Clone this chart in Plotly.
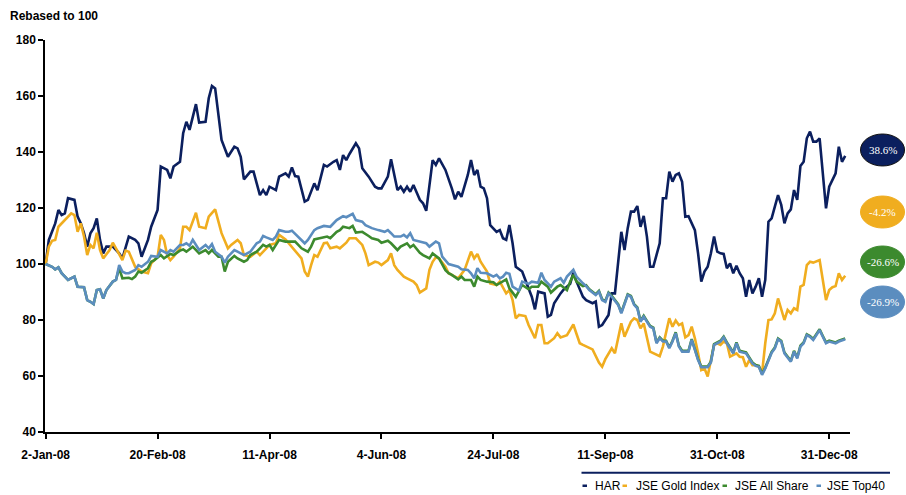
import plotly.graph_objects as go

# trading-day index (0 = 2-Jan-08) and rebased values
har_day = [0,1,3,4,5,6,7,9,10,11,12,13,14,15,16,17,18,19,21,23,24,25,26,28,29,30,32,33,35,36,38,39,40,42,43,44,45,47,48,50,51,52,53,55,57,59,60,61,62,64,65,66,67,68,69,70,72,73,75,76,77,78,79,81,82,84,85,87,88,90,91,92,93,94,95,97,98,99,101,103,104,105,107,108,110,111,112,113,114,115,116,117,118,119,121,122,123,125,127,128,129,130,132,133,134,135,136,137,138,139,141,142,143,144,145,146,147,149,150,152,153,154,156,157,158,159,161,162,164,165,166,168,169,171,172,173,174,176,177,178,180,181,182,183,184,185,186,187,188,189,190,191,192,193,194,195,196,197,198,199,200,201,202,203,204,205,206,207,208,209,210,211,212,213,214,215,216,217,218,219,220,221,222,223,224,225,226,227,228,229,230,231,232,233,234,235,236,237,238,239,240,241,242,243,244,245,246,247,248,249,250]
har_val = [100,108.6,114.5,119.3,117.5,118.1,123.5,122.9,116.9,114.5,111,106.2,111,112.8,116.3,108.6,103.8,106.2,106.2,103.8,102,106.2,109.8,108.6,107.4,102.6,108.6,113.3,119.3,134.8,133.6,130.6,134.8,136.5,146.7,150.8,147.9,157.1,150.5,150.8,159.2,163.6,162.7,144.3,138.3,141.9,141.3,138.3,130.2,133,133,128.8,124.6,126.4,124.6,127.6,126.4,131.2,132.4,131.2,134.5,131.4,131.2,122.3,122.9,128.8,126.4,135.4,134.8,136.5,137.1,133.6,138.9,137.1,139.3,143.1,141.3,134.2,131.2,127.6,127,127,131.2,137.4,126.4,127.6,125.8,127.6,125.8,128.2,125.8,122.9,121.7,119,137.1,135.4,137.7,133.6,127,123.1,125.8,124,131.8,137.1,131.8,133.6,127.6,127,123.5,113.9,111.5,112.1,109.2,108.6,113.9,107.4,99,97.3,94.3,88.3,83.8,90.1,89.5,81.2,81.8,86,89.5,90.9,92.9,96.9,93.7,88.3,87.1,86,86.6,77.6,78.2,81.8,89.5,89.5,111.5,105,112.8,118.7,118.7,120.7,113.3,117.2,109.8,99,99,103.2,107.4,123.5,123.5,133,129.4,131.8,132.4,129.4,116.9,117.1,114.5,112.1,103.8,93.7,97.3,99,103.8,109.8,104.4,103.8,103.6,98.5,100.2,96.7,99.4,96.7,94.9,88.3,94.3,89.5,91.9,94.9,88.3,94.3,115.1,116.3,120.5,124.6,121.1,114.5,118.1,119.5,126.4,122.9,135,136.5,144.9,147.3,143.7,143.7,144.9,133.6,119.9,127.6,130,132.4,141.9,136.5,138.6]

gold_day = [0,1,2,3,4,5,6,8,9,10,11,12,13,14,15,16,17,18,20,21,22,24,25,26,28,30,32,33,35,36,37,38,39,40,42,43,44,45,47,48,50,51,53,55,57,58,60,61,62,64,66,67,69,70,72,73,75,76,78,80,81,82,83,84,85,87,88,89,91,92,94,95,97,99,100,101,103,104,105,107,108,109,110,112,113,115,116,117,119,120,121,122,123,125,126,128,129,131,132,133,134,135,136,138,139,141,142,144,145,146,147,148,150,151,153,154,155,156,157,159,160,161,163,164,165,166,167,168,170,171,173,174,175,177,178,179,180,181,183,184,185,186,187,189,190,192,193,194,195,196,197,198,199,200,201,202,203,204,205,206,207,208,209,210,211,212,213,214,216,217,218,219,220,221,222,223,224,225,226,227,228,229,230,231,232,233,234,235,236,237,238,239,240,242,243,244,245,246,247,248,249,250]
gold_val = [100,106.2,108.3,108.6,113.3,114.5,115.5,118.1,117.5,111.5,114.5,109.8,103.2,106.8,105.6,111.2,105,102,105,107.6,105.6,101.4,104.8,104.4,99,97.3,96.7,100.2,102.6,110.4,108.6,103.2,101.4,102.6,105.6,113.3,113.3,112.1,118.3,113.3,112.8,116.9,119.5,111,105.6,106.8,108.6,107.4,103.2,102.6,104.4,103.2,105.6,106.8,107.4,110.4,108.8,107.4,104.4,102,97.3,95.5,99.6,103.2,102.6,107.4,107.6,105.6,106.2,105.6,107.6,109.2,109.2,106.8,103.8,99.6,100.8,100.5,99.6,101.4,103.8,99.6,97.9,95.5,94.9,93.7,92.5,89.8,91.3,97.9,100.8,102.4,102,99,96.7,95.5,94.9,97.9,100.8,104.4,102,103.6,100.8,97.3,93.1,92.5,93.7,89.5,90.7,87.1,80.6,81.8,81.4,78.2,73.5,78.2,78.2,71.7,71.7,73.5,75.3,73.8,74.6,76.7,78.4,75,71.7,71.1,69.9,69.5,64.8,63.3,66,69.9,68.1,72.9,78.8,74,79.4,80.6,80,77,78.8,68.7,68.1,67.1,70.5,75.3,80.6,77.6,79.8,78.2,78.8,73.8,74.6,77.6,73.5,68.1,62.1,62.7,59.8,65.7,71.1,71.7,71.1,72.3,71.7,66.9,68.1,66.9,66.7,63.3,65.7,63.9,63.9,63.3,61,71.7,80,80.2,82.4,87.7,83.6,80,83.6,82.4,84.2,83.6,91.9,92.5,99.6,100.8,100.5,101.4,94.3,87.1,90.7,91.7,92.1,96.7,94.3,95.8]

allshare_day = [0,2,3,4,5,7,9,10,12,13,14,15,16,17,18,19,21,22,23,24,26,27,28,29,30,32,33,34,36,37,39,40,42,43,44,46,48,50,51,52,54,55,56,57,59,60,62,63,64,66,67,68,69,70,71,73,75,76,78,79,80,82,83,84,86,88,89,91,92,93,95,96,97,99,101,102,104,105,107,108,110,111,113,114,115,117,118,120,121,123,125,126,127,129,130,131,133,134,135,136,138,140,141,143,144,145,147,149,151,152,154,155,157,158,160,161,163,164,165,166,168,
                169,170,172,173,174,175,176,177,179,180,182,183,184,185,186,187,188,189,190,191,192,193,194,195,196,197,198,199,201,202,203,204,205,207,208,209,210,211,212,213,215,216,217,219,220,221,222,223,224,225,227,228,229,230,231,233,234,235,236,237,238,239,240,242,243,244,245,247,248,250]
allshare_val = [100,99,98.1,98.8,96.7,94.3,95.5,91.9,91.7,87.1,86.5,85.7,90.7,91,87.7,90.7,93.7,94.3,98.5,94.9,95.1,94.6,95.5,97.3,96.9,98.5,100.8,101.4,103.2,102,103.6,103.2,104.8,105.2,104.4,106.2,103.8,105,103.8,105,102.6,102.6,97.3,100.8,102.9,102,100.8,101.4,103.2,104.4,105.6,106.8,106.2,106.8,105,108.6,108,108,108,106.8,105.6,104.4,106.2,108.8,109.2,109.8,109.2,111.5,112.1,113.3,112.8,113.6,111.2,111.5,110,109.2,108.6,107.6,108.3,107.4,105,106.2,107.4,106,106.8,104,103.2,102,103.8,102,97.8,96.7,96.1,94.5,95.5,94.3,94.3,91.9,95.5,94.3,93.7,93.5,92.5,94,94.5,91.3,88.3,92.5,91,91.9,91.9,93.7,91.9,89.8,91.9,92.5,90.7,93.7,96.1,93.7,92.1,
                92.4,91.0,89.2,90.4,87.4,86.8,89.8,88.6,85.7,82.7,89.2,88.6,85.7,84.5,79.7,81.5,79.7,77.9,77.3,72.0,73.8,72.6,72.6,70.2,72.6,75.6,70.8,69.0,69.0,73.2,69.6,66.0,63.4,63.4,65.1,71.4,72.0,72.6,74.1,72.0,68.4,72.0,69.0,68.4,66.6,64.8,63.9,63.6,60.8,63.0,68.6,70.2,73.4,72.6,68.4,65.4,69.0,66.6,70.8,72.0,74.9,74.3,73.2,76.7,74.3,72.0,72.6,72.0,72.6,73.4]

top40_day = [0,2,3,4,5,7,9,10,12,13,14,15,16,17,18,19,21,22,23,24,25,26,28,29,30,32,33,35,36,38,39,40,42,43,44,45,46,48,50,51,52,53,55,56,57,59,60,62,64,66,67,68,69,71,72,73,75,76,77,79,80,81,82,84,85,87,89,90,91,93,94,96,97,99,100,102,103,104,106,107,108,109,111,112,113,114,115,117,119,120,122,123,124,126,127,129,130,132,133,134,135,136,138,140,141,142,143,144,145,146,148,149,151,152,154,155,156,158,159,161,162,163,165,166,168,169,170,172,173,174,175,176,177,179,180,182,183,184,185,186,187,188,189,190,191,192,193,194,195,196,197,198,199,201,202,203,204,205,207,208,209,210,211,212,213,215,216,217,219,220,221,222,223,224,225,227,228,229,230,231,233,234,235,236,237,238,239,240,242,243,244,245,247,248,250]
top40_val = [100,99,98.1,98.8,96.7,94.3,95.5,91.9,91.7,87.1,86.5,85.7,90.7,91,87.7,90.7,93.7,94.3,99.6,97.3,96.7,96.7,97.9,99.6,99,100.8,102.9,102.6,105,103.8,105,104.4,106.8,106.8,107.4,106.5,108.6,105,106.8,105.6,107.1,104.4,102.6,100.5,102.6,105,104.4,103.2,104.4,107.4,108,110,109.5,108.6,109.8,112.1,111.5,111.5,111.9,109.8,108.6,107.4,108.6,112.1,112.8,113.6,113.3,114.5,115.7,117.1,116.7,117.9,115.7,115.1,113.9,112.8,112.4,112.1,111.5,112.1,111,109.8,109.8,110.4,109.5,111,108.6,108,107.4,106.2,108,107.4,102.6,100,99.6,99,98.1,97.9,96.7,94.9,98.5,96.9,96.7,95.5,96.1,94.9,95.5,96.9,96.5,91.9,90.5,93.7,92.9,93.7,93.3,96.9,94.3,91.9,93.7,94.9,93.3,95.5,97.9,95.5,93.1,92.1,90.7,88.9,90.1,87.1,86.5,89.5,88.3,85.4,82.4,88.9,88.3,85.4,84.2,79.4,81.2,79.4,77.6,77,71.7,73.5,72.3,72.3,69.9,72.3,75.3,70.5,68.7,68.7,72.9,69.3,65.7,63.1,63.1,64.8,71.1,71.7,72.3,73.8,71.7,68.1,71.7,68.7,68.1,66.3,64.5,63.6,63.3,60.4,62.7,68.3,69.9,73.1,72.3,68.1,65.1,68.7,66.3,70.5,71.7,74.6,74,72.9,76.4,74,71.7,72.3,71.7,72.3,73.1]

series_names = ["HAR", "JSE Gold Index", "JSE All Share", "JSE Top40"]
series_colors = ["#0B1F5E", "#F0AD1F", "#3C8A2E", "#5B8DBF"]
badge_labels = ["38.6%", "-4.2%", "-26.6%", "-26.9%"]

tick_days = [0, 35, 70, 105, 140, 175, 210, 245]
tick_labels = ["2-Jan-08", "20-Feb-08", "11-Apr-08", "4-Jun-08", "24-Jul-08", "11-Sep-08", "31-Oct-08", "31-Dec-08"]
y_ticks = [40, 60, 80, 100, 120, 140, 160, 180]

for a, b in [(har_day, har_val), (gold_day, gold_val), (allshare_day, allshare_val), (top40_day, top40_val)]:
    assert len(a) == len(b), (len(a), len(b))

FONT = "Liberation Sans, Arial, sans-serif"

fig = go.Figure()
for d, v, name, col in zip([har_day, gold_day, allshare_day, top40_day],
                           [har_val, gold_val, allshare_val, top40_val],
                           series_names, series_colors):
    fig.add_trace(go.Scatter(x=d, y=v, mode="lines", name=name,
                             line=dict(color=col, width=2.6), showlegend=False))

# plot area: 805 x 392 px; paper coords below are relative to it
PW, PH = 805.0, 392.0

# badges on the right
badge_y = [0.7194, 0.5612, 0.4337, 0.3316]
bx, bw, bh = 1.0404, 44 / PW, 32 / PH
for lab, col, yc in zip(badge_labels, series_colors, badge_y):
    fig.add_shape(type="circle", xref="paper", yref="paper",
                  x0=bx - bw / 2, x1=bx + bw / 2, y0=yc - bh / 2, y1=yc + bh / 2,
                  fillcolor=col, line=dict(color="#111" if col == "#0B1F5E" else col, width=1))
    fig.add_annotation(x=bx, y=yc, xref="paper", yref="paper", text=lab, showarrow=False,
                       xanchor="center", yanchor="middle",
                       font=dict(family="Liberation Serif, Times New Roman, serif", size=11, color="white"))

# legend rule
fig.add_shape(type="line", xref="paper", yref="paper", x0=(581.5 - 45) / PW, x1=(890 - 45) / PW,
              y0=(432 - 472.7) / PH, y1=(432 - 472.7) / PH, line=dict(color="#0B1F5E", width=2))
# legend entries: small colour dash + name
leg_marker_px = [582.5, 622.5, 722.5, 816.5]
leg_text_px = [592.5, 633.5, 732.5, 824.5]
for n, c, mx, tx in zip(series_names, series_colors, leg_marker_px, leg_text_px):
    fig.add_shape(type="rect", xref="paper", yref="paper",
                  x0=(mx - 45) / PW, x1=(mx + 4.5 - 45) / PW,
                  y0=(432 - 487) / PH, y1=(432 - 484.5) / PH,
                  fillcolor=c, line=dict(width=0))
    fig.add_annotation(x=(tx - 45) / PW, y=(432 - 486.5) / PH, xref="paper", yref="paper", text=n,
                       showarrow=False, xanchor="left", yanchor="middle",
                       font=dict(family=FONT, size=12, color="#000"))

fig.add_annotation(x=(8 - 45) / PW, y=(432 - 16) / PH, xref="paper", yref="paper",
                   text="<b>Rebased to 100</b>", showarrow=False, xanchor="left", yanchor="middle",
                   font=dict(family=FONT, size=12, color="#000"))

fig.update_layout(
    width=906, height=495, paper_bgcolor="white", plot_bgcolor="white",
    margin=dict(l=45, r=56, t=40, b=63),
    font=dict(family=FONT, size=12, color="#000"),
    xaxis=dict(range=[-0.2, 251.5], tickmode="array", tickvals=tick_days,
               ticktext=[f"<b>{t}</b>" for t in tick_labels],
               showgrid=False, zeroline=False, showline=True, linecolor="#000", linewidth=1.5,
               ticks="outside", ticklen=5, tickcolor="#000", tickwidth=1.5, ticklabelstandoff=6,
               tickfont=dict(family=FONT, size=12, color="#000")),
    yaxis=dict(range=[40, 180], tickmode="array", tickvals=y_ticks,
               ticktext=[f"<b>{t}</b>" for t in y_ticks],
               showgrid=False, zeroline=False, showline=True, linecolor="#000", linewidth=1.5,
               ticks="outside", ticklen=5, tickcolor="#000", tickwidth=1.5,
               tickfont=dict(family=FONT, size=12, color="#000")),
)

fig.write_html("out.html", config={"displayModeBar": False},
               post_script="document.body.style.margin='0';document.body.style.overflow='hidden';")
